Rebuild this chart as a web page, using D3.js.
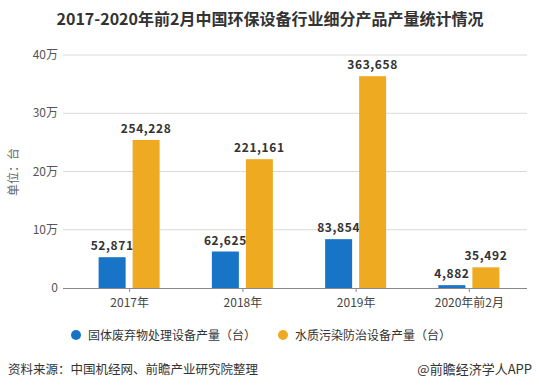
<!DOCTYPE html>
<html>
<head>
<meta charset="utf-8">
<script src="https://cdn.jsdelivr.net/npm/d3@7"></script>
<style>
  body { margin: 0; background: #fff; }
  text { font-family: "Noto Sans CJK SC", "Noto Sans", sans-serif; }
</style>
</head>
<body>
<svg width="539" height="389"></svg>
<script>
// data
var years = ["2017年", "2018年", "2019年", "2020年前2月"];
var solidWaste = [52871, 62625, 83854, 4882];
var waterPollution = [254228, 221161, 363658, 35492];
var seriesNames = ["固体废弃物处理设备产量（台）", "水质污染防治设备产量（台）"];
var yTicks = [0, 100000, 200000, 300000, 400000];
var yTickLabels = ["0", "10万", "20万", "30万", "40万"];
var colors = ["#1874c6", "#eeab22"];

var svg = d3.select("svg");

// scales
var x = d3.scaleBand().domain(years).range([73, 526]);
var y = d3.scaleLinear().domain([0, 400000]).range([288, 55]);
var fmt = d3.format(",");

// title
svg.append("text")
  .attr("x", 270).attr("y", 25)
  .attr("text-anchor", "middle")
  .attr("font-size", 16).attr("font-weight", "bold")
  .attr("fill", "#333")
  .text("2017-2020年前2月中国环保设备行业细分产品产量统计情况");

// gridlines
svg.selectAll("line.grid")
  .data(yTicks.slice(1))
  .enter().append("line")
  .attr("class", "grid")
  .attr("x1", 63).attr("x2", 527)
  .attr("y1", function(d) { return y(d); })
  .attr("y2", function(d) { return y(d); })
  .attr("stroke", "#d9d9d9").attr("stroke-width", 1);

// y labels
svg.selectAll("text.ytick")
  .data(yTicks)
  .enter().append("text")
  .attr("class", "ytick")
  .attr("x", 58)
  .attr("y", function(d) { return y(d) + 4; })
  .attr("text-anchor", "end")
  .attr("font-size", 12).attr("fill", "#555")
  .text(function(d, i) { return yTickLabels[i]; });

svg.append("text")
  .attr("transform", "translate(18,172) rotate(-90)")
  .attr("text-anchor", "middle")
  .attr("font-size", 12).attr("fill", "#666")
  .text("单位：台");

// bars
var barW = 27;
var groups = svg.selectAll("g.cat")
  .data(years)
  .enter().append("g")
  .attr("class", "cat")
  .attr("transform", function(d) { return "translate(" + (x(d) + x.bandwidth() / 2) + ",0)"; });

[solidWaste, waterPollution].forEach(function(series, s) {
  var off = s === 0 ? -31 : 3;
  groups.append("rect")
    .attr("x", off)
    .attr("y", function(d, i) { return y(series[i]); })
    .attr("width", barW)
    .attr("height", function(d, i) { return 288 - y(series[i]); })
    .attr("fill", colors[s]);
  groups.append("text")
    .attr("x", off + barW / 2)
    .attr("y", function(d, i) { return y(series[i]) - 7; })
    .attr("text-anchor", "middle")
    .attr("font-size", 12).attr("font-weight", "bold")
    .attr("letter-spacing", 0.6)
    .attr("fill", "#333")
    .text(function(d, i) { return fmt(series[i]); });
});

// x axis
var xAxis = d3.axisBottom(x).tickSize(4).tickSizeOuter(0);
var gx = svg.append("g")
  .attr("transform", "translate(0,288)")
  .call(xAxis);
gx.select(".domain").attr("stroke", "#888").attr("d", "M63,0.5H527");
gx.selectAll(".tick line").attr("stroke", "#888");
gx.selectAll(".tick text")
  .attr("font-size", 12).attr("fill", "#444")
  .attr("font-family", "'Noto Sans CJK SC', sans-serif")
  .attr("dy", "1em");

// legend
var legX = [76, 283];
seriesNames.forEach(function(name, i) {
  svg.append("circle")
    .attr("cx", legX[i]).attr("cy", 335).attr("r", 5)
    .attr("fill", colors[i]);
  svg.append("text")
    .attr("x", legX[i] + 12).attr("y", 339.5)
    .attr("font-size", 12).attr("fill", "#333")
    .text(name);
});

// footer
svg.append("text")
  .attr("x", 8).attr("y", 374)
  .attr("font-size", 12.5).attr("fill", "#333")
  .text("资料来源：中国机经网、前瞻产业研究院整理");
svg.append("text")
  .attr("x", 532).attr("y", 374)
  .attr("text-anchor", "end")
  .attr("font-size", 13).attr("fill", "#333")
  .text("@前瞻经济学人APP");
</script>
</body>
</html>
